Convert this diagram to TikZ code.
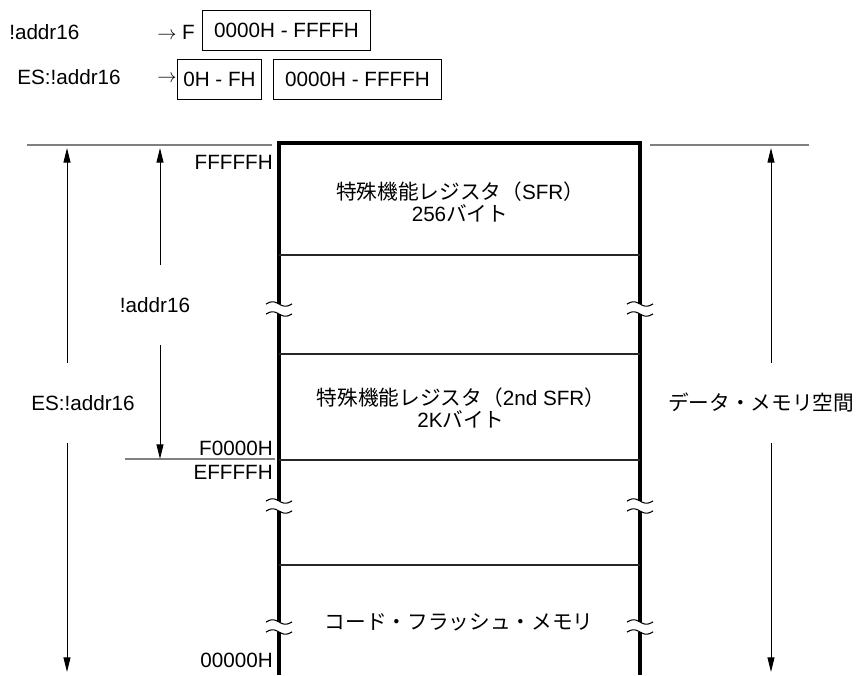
\documentclass[tikz,border=0pt]{standalone}
\usepackage{fontspec}
\setmainfont{Liberation Sans}
\newfontfamily\jp{Noto Sans CJK JP}
\usetikzlibrary{arrows.meta}

\tikzset{
  dimarrow/.style={line width=0.75pt, -{Triangle[length=11pt,width=5.2pt]}},
  limitline/.style={gray, line width=1.5pt},
  memwall/.style={line width=2.6pt},
  memsep/.style={black!85, line width=1pt},
  addrbox/.style={draw, line width=0.75pt, minimum height=30pt, inner sep=0pt},
  addrlbl/.style={anchor=east, inner sep=0pt},
  spanlbl/.style={minimum height=60pt, inner sep=0pt},
  brk/.pic={
    % gap in the wall between two waves
    \fill[white] (-3,-5) rectangle (3,5);
    \foreach \wy in {-5,5}
      \draw[line width=0.8pt] plot[domain=-13:13, samples=27] (\x, {\wy+2.2*sin(14*\x)});
  }
}

\begin{document}
\begin{tikzpicture}[x=0.75pt, y=-0.75pt, font=\fontsize{15.5}{17}\selectfont]
    \useasboundingbox (0,0) rectangle (857,675);

    % Addressing forms
    \node[anchor=west, inner sep=0pt] (a16) at (9,32) {!addr16};
    \node[anchor=west, inner sep=0pt] (arF) at (157,32) {$\rightarrow$ F};
    \node[addrbox, minimum width=126pt, anchor=west] (offA) at (202,30) {0000H - FFFFH};
    \node[anchor=west, inner sep=0pt] (es16) at (17,77) {ES:!addr16};
    \node[anchor=west, inner sep=0pt] (arES) at (157,79) {$\rightarrow$};
    \node[addrbox, minimum width=63pt, anchor=west] (segB) at (177,79) {0H - FH};
    \node[addrbox, minimum width=126pt, anchor=west] (offB) at (273,79) {0000H - FFFFH};

    % Memory map walls and separators
    \draw[memwall] (279,675) -- (279,143) -- (640,143) -- (640,675);
    \foreach \sy in {255,354,460,565}
      \draw[memsep] (279,\sy) -- (640,\sy);

    % Limit lines
    \draw[limitline] (27,145) -- (272,145);
    \draw[limitline] (650,145) -- (809,145);
    \draw[limitline] (125,459) -- (275,459);

    % Breaks in the walls
    \foreach \bx in {279,640}
      \foreach \by in {309,506,627}
        \pic at (\bx,\by) {brk};

    % Region labels
    \node[align=center] (sfr) at (460,202) {{\jp 特殊機能レジスタ（}SFR{\jp ）}\\256{\jp バイト}};
    \node[align=center] (sfr2) at (461,408) {{\jp 特殊機能レジスタ（}2nd SFR{\jp ）}\\2K{\jp バイト}};
    \node (cfl) at (459,622) {\jp コード・フラッシュ・メモリ};

    % Addresses
    \node[addrlbl] (adTop) at (273,162) {FFFFFH};
    \node[addrlbl] (adF0) at (273,448) {F0000H};
    \node[addrlbl] (adEF) at (273,472) {EFFFFH};
    \node[addrlbl] (adZero) at (273,660) {00000H};

    % Span arrows
    \coordinate (esTop) at (67,148);
    \coordinate (esBot) at (67,672);
    \coordinate (aTop) at (160,148);
    \coordinate (aBot) at (160,459);
    \coordinate (dTop) at (771,148);
    \coordinate (dBot) at (771,672);

    \node[spanlbl] (esl) at (83,403) {ES:!addr16};
    \node[spanlbl] (a16l) at (155,305) {!addr16};
    \node[spanlbl, anchor=west] (dml) at (668,403) {\jp データ・メモリ空間};

    \draw[dimarrow] (esl.north -| esTop) -- (esTop);
    \draw[dimarrow] (esl.south -| esBot) -- (esBot);
    \draw[dimarrow] (a16l.north -| aTop) -- (aTop);
    \draw[dimarrow] (a16l.south -| aBot) -- (aBot);
    \draw[dimarrow] (dml.north -| dTop) -- (dTop);
    \draw[dimarrow] (dml.south -| dBot) -- (dBot);

\end{tikzpicture}
\end{document}
